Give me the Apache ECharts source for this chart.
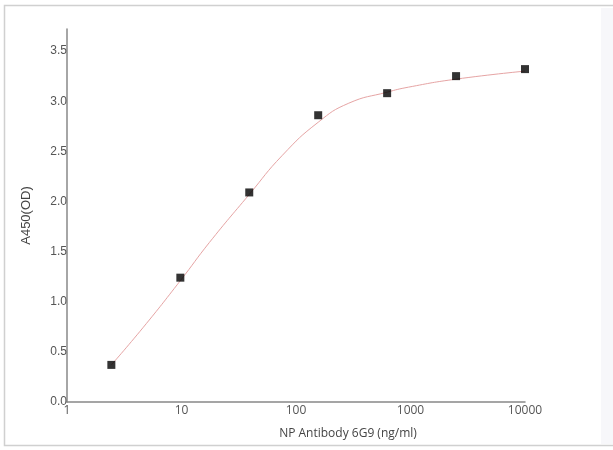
<!DOCTYPE html>
<html lang="en">
<head>
    <meta charset="UTF-8">
    <title>NP Antibody 6G9</title>
</head>
<body style="margin:0">
<div id='main' style="height: 450px;width: 613px"></div>
</body>
<script src="https://cdn.jsdelivr.net/npm/echarts@6/dist/echarts.min.js"></script>
<script>
    // concentration (ng/ml) and A450 readings
    var conc = [2.44, 9.77, 39.06, 156.25, 625, 2500, 10000];
    var od = [0.37, 1.24, 2.09, 2.86, 3.08, 3.25, 3.32];
    // fitted curve
    var fitConc = [2.44, 4.6, 9.77, 17.5, 39.06, 76, 156.25, 289, 625, 961, 2500, 10000];
    var fitOd = [0.37, 0.74, 1.21, 1.59, 2.07, 2.46, 2.79, 2.98, 3.09, 3.14, 3.22, 3.30];
    var yTicks = [0, 0.5, 1.0, 1.5, 2.0, 2.5, 3.0, 3.5];

    var myChart = echarts.init(document.getElementById('main'));

    var points = conc.map(function (c, i) {
        return [c, od[i]];
    });
    var fit = fitConc.map(function (c, i) {
        return [c, fitOd[i]];
    });

    var option = {
        backgroundColor: '#fff',
        animation: false,
        graphic: [{
            type: 'rect',
            shape: {x: 4.5, y: 5.5, width: 620, height: 440},
            style: {fill: 'none', stroke: '#d0d0d0', lineWidth: 1.5},
            silent: true
        }, {
            type: 'rect',
            shape: {x: 601, y: 8, width: 12, height: 436},
            style: {fill: '#f7f7fa'},
            silent: true
        }],
        grid: {left: 67, right: 88, top: 29, bottom: 48},
        xAxis: {
            type: 'log',
            logBase: 10,
            min: 1,
            max: 10000,
            name: 'NP Antibody 6G9 (ng/ml)',
            nameLocation: 'middle',
            nameGap: 26,
            nameTextStyle: {
                fontFamily: 'Open Sans', fontSize: 12, color: '#444',
                padding: [0, 0, 0, 104]
            },
            axisLine: {lineStyle: {color: '#888', width: 1.5}},
            axisTick: {show: false},
            splitLine: {show: false},
            axisLabel: {
                margin: 3, fontFamily: 'Open Sans', fontSize: 12, color: '#555',
                formatter: function (v) { return String(Math.round(v)); }
            }
        },
        yAxis: {
            type: 'value',
            min: 0,
            max: 3.72,
            interval: 0.5,
            name: 'A450(OD)',
            nameLocation: 'middle',
            nameGap: 34,
            nameTextStyle: {fontFamily: 'Liberation Sans', fontSize: 13, color: '#444'},
            axisLine: {show: true, lineStyle: {color: '#888', width: 1.5}},
            axisTick: {show: false},
            splitLine: {show: false},
            axisLabel: {
                margin: 0, fontFamily: 'Liberation Sans', fontSize: 12, color: '#555',
                formatter: function (v) {
                    return yTicks.indexOf(v) >= 0 ? v.toFixed(1) : '';
                }
            }
        },
        series: [{
            type: 'line',
            data: fit,
            smooth: 0.5,
            showSymbol: false,
            lineStyle: {color: '#e6a4a4', width: 1},
            z: 1
        }, {
            type: 'scatter',
            data: points,
            symbol: 'rect',
            symbolSize: 8,
            itemStyle: {color: '#000'},
            z: 2
        }]
    };
    myChart.setOption(option);
</script>
</html>
